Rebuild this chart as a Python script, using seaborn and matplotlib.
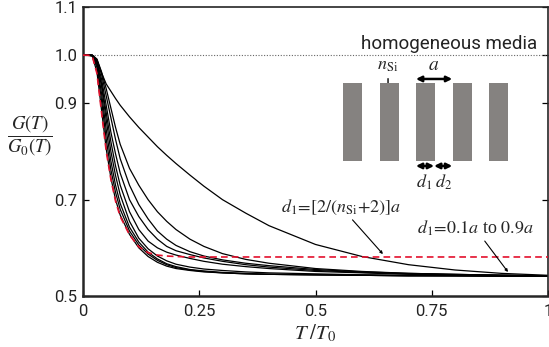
import pandas as pd
import seaborn as sns
import matplotlib.pyplot as plt
from matplotlib.patches import Rectangle

# 数据：横坐标 T/T0 与各条曲线的 G(T)/G0(T)
t_vals = [0, 0.01, 0.02, 0.03, 0.04, 0.05, 0.06, 0.07, 0.08, 0.10, 0.12, 0.14, 0.16,
          0.18, 0.20, 0.23, 0.26, 0.30, 0.35, 0.40, 0.50, 0.60, 0.70, 0.80, 0.90, 1.0]

g_f1 = [1.0, 1.0, 0.998, 0.965, 0.885, 0.805, 0.745, 0.700, 0.668, 0.628, 0.600, 0.582, 0.570,
        0.562, 0.557, 0.553, 0.550, 0.548, 0.546, 0.545, 0.544, 0.543, 0.542, 0.542, 0.541, 0.541]
g_f2 = [1.0, 1.0, 0.999, 0.975, 0.905, 0.825, 0.762, 0.715, 0.680, 0.635, 0.606, 0.587, 0.574,
        0.565, 0.559, 0.554, 0.551, 0.548, 0.546, 0.545, 0.544, 0.543, 0.542, 0.542, 0.541, 0.541]
g_f3 = [1.0, 1.0, 0.999, 0.980, 0.920, 0.845, 0.780, 0.730, 0.692, 0.643, 0.612, 0.591, 0.577,
        0.567, 0.561, 0.555, 0.552, 0.549, 0.547, 0.545, 0.544, 0.543, 0.542, 0.542, 0.542, 0.541]
g_f4 = [1.0, 1.0, 0.999, 0.985, 0.935, 0.865, 0.800, 0.750, 0.710, 0.655, 0.620, 0.598, 0.583,
        0.573, 0.566, 0.560, 0.556, 0.553, 0.550, 0.548, 0.546, 0.544, 0.543, 0.542, 0.542, 0.541]
g_e = [1.0, 1.0, 1.0, 0.985, 0.940, 0.880, 0.820, 0.770, 0.730, 0.675, 0.638, 0.614, 0.600,
       0.591, 0.585, 0.578, 0.572, 0.566, 0.561, 0.557, 0.551, 0.548, 0.545, 0.544, 0.543, 0.542]
g_d = [1.0, 1.0, 1.0, 0.988, 0.950, 0.895, 0.840, 0.795, 0.755, 0.700, 0.665, 0.638, 0.618,
       0.603, 0.594, 0.586, 0.579, 0.572, 0.565, 0.560, 0.553, 0.549, 0.546, 0.544, 0.543, 0.542]
g_c = [1.0, 1.0, 1.0, 0.990, 0.960, 0.915, 0.870, 0.825, 0.785, 0.730, 0.690, 0.660, 0.635,
       0.618, 0.605, 0.592, 0.583, 0.575, 0.568, 0.563, 0.555, 0.550, 0.547, 0.545, 0.543, 0.542]
g_b = [1.0, 1.0, 1.0, 0.992, 0.965, 0.930, 0.890, 0.850, 0.815, 0.765, 0.730, 0.700, 0.675,
       0.655, 0.638, 0.618, 0.603, 0.588, 0.576, 0.568, 0.557, 0.551, 0.547, 0.545, 0.543, 0.542]
g_s = [1.0, 1.0, 0.999, 0.990, 0.963, 0.940, 0.925, 0.910, 0.896, 0.872, 0.850, 0.830, 0.810,
       0.792, 0.775, 0.751, 0.728, 0.700, 0.672, 0.646, 0.607, 0.582, 0.565, 0.554, 0.547, 0.543]
# 红色虚线
g_red = [1.0, 1.0, 0.998, 0.962, 0.880, 0.800, 0.742, 0.697, 0.665, 0.627, 0.602, 0.590, 0.585,
         0.583, 0.582, 0.581, 0.581, 0.581, 0.581, 0.581, 0.581, 0.581, 0.581, 0.581, 0.581, 0.581]

x_ticks = [0, 0.25, 0.5, 0.75, 1]
x_tick_labels = ['0', '0.25', '0.5', '0.75', '1']
y_ticks = [0.5, 0.7, 0.9, 1.0, 1.1]
y_tick_labels = ['0.5', '0.7', '0.9', '1.0', '1.1']

black_curves = {'f1': g_f1, 'f2': g_f2, 'f3': g_f3, 'f4': g_f4, 'e': g_e,
                'd': g_d, 'c': g_c, 'b': g_b, 's': g_s}
df_black = pd.concat([pd.DataFrame({'T': t_vals, 'G': v, 'curve': k})
                      for k, v in black_curves.items()], ignore_index=True)
df_red = pd.DataFrame({'T': t_vals, 'G': g_red})

sns.set_style('ticks')
plt.rcParams['mathtext.fontset'] = 'stix'
plt.rcParams['font.family'] = ['Roboto', 'DejaVu Sans']

fig = plt.figure(figsize=(5.49, 3.47), dpi=100)
ax = fig.add_axes([83 / 549, 1 - 296 / 347, 465 / 549, 289 / 347])

# 均匀介质参考线
ax.axhline(1.0, color='0.4', ls=(0, (1, 1.5)), lw=0.8, zorder=1)

sns.lineplot(data=df_black, x='T', y='G', units='curve', estimator=None,
             color='black', lw=0.9, ax=ax, zorder=2)
sns.lineplot(data=df_red, x='T', y='G', color='#e3102c', lw=1.2,
             ls=(0, (4, 2.5)), ax=ax, zorder=3)

ax.set_xlim(0, 1)
ax.set_ylim(0.5, 1.1)
ax.set_xticks(x_ticks)
ax.set_xticklabels(x_tick_labels)
ax.set_yticks(y_ticks)
ax.set_yticklabels(y_tick_labels)
ax.tick_params(direction='in', length=4, width=0.9, labelsize=12, top=False, right=True,
               colors='black', labelcolor='#222222', pad=4)
ax.tick_params(axis='x', pad=6)
for side in ['left', 'bottom']:
    ax.spines[side].set_linewidth(1.8)
for side in ['top', 'right']:
    ax.spines[side].set_linewidth(1.2)
    ax.spines[side].set_visible(True)

ax.set_xlabel(r'$T\;/T_0$', fontsize=15, labelpad=2)
ax.set_ylabel(r'$\dfrac{G(T)}{G_0(T)}$', fontsize=13.5, rotation=0)
ax.yaxis.set_label_coords(-0.114, 0.478)

# 图中文字
ax.text(0.976, 0.872, 'homogeneous media', transform=ax.transAxes, ha='right', va='center',
        fontsize=13.5, color='#222222')

# 插图：光栅示意
for i in range(5):
    ax.add_patch(Rectangle((0.559 + i * 0.0787, 0.467), 0.041, 0.27, transform=ax.transAxes,
                           facecolor='#858280', edgecolor='none', zorder=4))

arrow_kw = dict(arrowstyle='<|-|>', color='black', lw=1.8, mutation_scale=8, shrinkA=0, shrinkB=0)
ax.annotate('', xy=(0.716, 0.751), xytext=(0.794, 0.751), xycoords='axes fraction', arrowprops=arrow_kw)
ax.annotate('', xy=(0.716, 0.45), xytext=(0.755, 0.45), xycoords='axes fraction', arrowprops=arrow_kw)
ax.annotate('', xy=(0.755, 0.45), xytext=(0.794, 0.45), xycoords='axes fraction', arrowprops=arrow_kw)
ax.annotate('', xy=(0.656, 0.706), xytext=(0.656, 0.752), xycoords='axes fraction',
            arrowprops=dict(arrowstyle='-|>', color='black', lw=1.0, mutation_scale=6,
                            shrinkA=0, shrinkB=0))

ax.text(0.755, 0.80, r'$a$', transform=ax.transAxes, ha='center', va='center', fontsize=14)
ax.text(0.656, 0.80, r'$n_{\mathrm{Si}}$', transform=ax.transAxes, ha='center', va='center', fontsize=13)
ax.text(0.733, 0.395, r'$d_1$', transform=ax.transAxes, ha='center', va='center', fontsize=13)
ax.text(0.776, 0.395, r'$d_2$', transform=ax.transAxes, ha='center', va='center', fontsize=13)

line_kw = dict(arrowstyle='-|>', color='black', lw=0.8, mutation_scale=4, shrinkA=0, shrinkB=0)
ax.annotate(r'$d_1\!=\![2/(n_{\mathrm{Si}}\!+\!2)]a$', xy=(0.645, 0.145), xytext=(0.555, 0.308),
            xycoords='axes fraction', textcoords='axes fraction', ha='center', va='center',
            fontsize=13, arrowprops=line_kw)
ax.annotate(r'$d_1\!=\!0.1a$ to $0.9a$', xy=(0.914, 0.083), xytext=(0.843, 0.235),
            xycoords='axes fraction', textcoords='axes fraction', ha='center', va='center',
            fontsize=13, family=['Liberation Serif', 'DejaVu Serif'], arrowprops=line_kw)

fig.savefig('out.png', dpi=100)
